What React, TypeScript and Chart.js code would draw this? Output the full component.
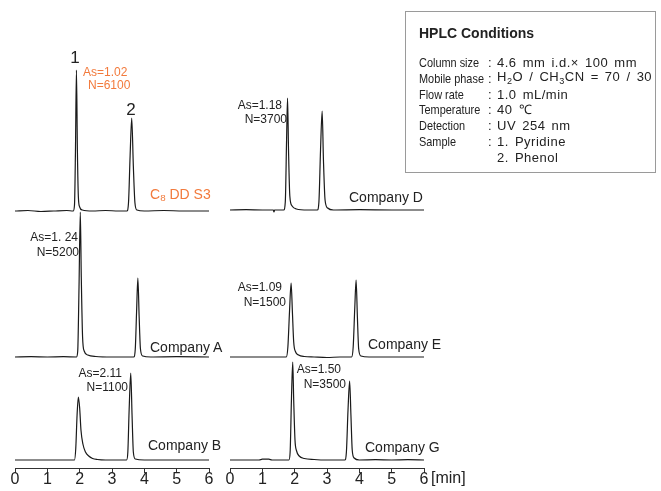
import React, { useEffect, useRef } from "react";
import { Chart, registerables } from "chart.js";

Chart.register(...registerables);

// ---------- data: chromatogram traces [time (min), signal] ----------
const traceC8: [number, number][] = [
  [0, 0], [0.4, 0.5], [0.8, -0.5], [1.2, 0], [1.6, 0.5], [1.8, 0], [1.84, 6], [1.87, 60], [1.9, 141],
  [1.93, 60], [1.96, 14], [2.0, 4], [2.08, 1], [2.4, 0], [2.8, 0.5], [3.2, 0], [3.46, 0], [3.51, 8],
  [3.56, 55], [3.61, 93], [3.66, 45], [3.71, 8], [3.77, 1], [4.0, 0], [4.6, 0.5], [5.2, 0], [6, 0],
];
const traceD: [number, number][] = [
  [0, 0], [0.5, 0.3], [1.0, 0], [1.34, 0], [1.36, -2], [1.38, 0], [1.66, 0], [1.71, 8], [1.75, 70],
  [1.78, 112], [1.81, 60], [1.85, 14], [1.92, 4], [2.05, 1], [2.4, 0], [2.7, 0], [2.75, 8], [2.8, 60],
  [2.85, 99], [2.89, 50], [2.94, 10], [3.02, 2], [3.2, 0], [4.0, 0.3], [5.0, 0], [6, 0],
];
const traceA: [number, number][] = [
  [0, 0], [0.5, 0.3], [1.0, 0], [1.5, 0.3], [1.9, 0], [1.94, 6], [1.98, 70], [2.02, 145], [2.05, 80],
  [2.09, 20], [2.14, 6], [2.25, 2], [2.5, 0.5], [3.0, 0], [3.5, 0], [3.67, 0], [3.72, 8], [3.76, 45],
  [3.8, 79], [3.84, 40], [3.88, 8], [3.95, 1], [4.2, 0], [5.0, 0.3], [6, 0],
];
const traceE: [number, number][] = [
  [0, 0], [0.5, 0], [1.0, 0], [1.5, 0], [1.74, 0], [1.79, 10], [1.84, 45], [1.89, 74], [1.93, 45],
  [1.97, 15], [2.03, 5], [2.12, 2], [2.3, 0.5], [2.6, 0], [3.0, -0.5], [3.4, 0], [3.76, 0], [3.81, 10],
  [3.86, 50], [3.9, 77], [3.94, 40], [3.98, 8], [4.05, 1], [4.3, 0], [5.0, 0], [6, 0],
];
const traceB: [number, number][] = [
  [0, 0], [1.0, 0], [1.84, 0], [1.88, 12], [1.92, 45], [1.96, 63], [2.0, 52], [2.04, 30], [2.1, 16],
  [2.18, 8], [2.28, 4], [2.4, 1.5], [2.55, 0.5], [2.8, 0], [3.45, 0], [3.49, 8], [3.53, 50], [3.58, 87],
  [3.62, 45], [3.66, 8], [3.72, 1], [4.0, 0], [5.0, 0], [6, 0],
];
const traceG: [number, number][] = [
  [0, 0], [0.9, 0], [1.0, 0.8], [1.2, 0.8], [1.3, 0], [1.82, 0], [1.86, 8], [1.9, 60], [1.94, 98],
  [1.97, 60], [2.01, 20], [2.06, 9], [2.14, 4], [2.3, 1.5], [2.6, 0.5], [3.0, 0], [3.55, 0], [3.6, 8],
  [3.65, 50], [3.7, 79], [3.74, 45], [3.78, 10], [3.84, 2], [4.0, 0], [4.5, 0.3], [5.0, 0], [5.5, 0.3], [6, 0],
];

const timeTicks = [0, 1, 2, 3, 4, 5, 6];

const hplcLabels = ["Column size", "Mobile phase", "Flow rate", "Temperature", "Detection", "Sample", ""];

// ---------- layout ----------
const FONT = "'Liberation Sans', Arial, Helvetica, sans-serif";
const PADX = 10;
const PLOT_W = 194;
const Y_ABOVE = 160;
const AXIS_Y = 468;
const AXIS_H = 26;
const ORANGE = "#F27A3C";
const INK = "#222";

type PanelProps = { points: [number, number][]; left: number; baseline: number; axis?: boolean };

function Panel({ points, left, baseline, axis }: PanelProps) {
  const ref = useRef<HTMLCanvasElement>(null);
  const yMin = axis ? -(AXIS_Y - baseline) : -10;
  const w = PLOT_W + PADX * 2;
  const h = Y_ABOVE - yMin + (axis ? AXIS_H : 0);
  useEffect(() => {
    if (!ref.current) return;
    const xScale: any = {
      type: "linear",
      min: timeTicks[0],
      max: timeTicks[timeTicks.length - 1],
      display: !!axis,
      afterBuildTicks: (s: any) => {
        s.ticks = timeTicks.map((v) => ({ value: v }));
      },
      ticks: { color: INK, font: { family: FONT, size: 16 }, padding: -3, maxRotation: 0 },
      grid: { drawOnChartArea: false, drawTicks: true, tickLength: 5, color: "#333", lineWidth: 1 },
      border: { display: true, color: "#333", width: 1 },
    };
    if (axis) {
      xScale.afterFit = (s: any) => {
        s.height = AXIS_H;
      };
    }
    const chart = new Chart(ref.current, {
      type: "line",
      data: {
        datasets: [
          {
            data: points.map(([x, y]) => ({ x, y })),
            borderColor: "#1a1a1a",
            borderWidth: 1.2,
            pointRadius: 0,
            cubicInterpolationMode: "monotone",
            fill: false,
            clip: false as any,
          },
        ],
      },
      options: {
        responsive: false,
        animation: false,
        events: [],
        layout: { padding: { left: PADX, right: PADX, top: 0, bottom: 0 } },
        plugins: { legend: { display: false }, tooltip: { enabled: false } },
        scales: {
          x: xScale,
          y: { type: "linear", min: yMin, max: Y_ABOVE, display: false },
        },
      },
    } as any);
    return () => chart.destroy();
  }, []);
  return (
    <canvas
      ref={ref}
      width={w}
      height={h}
      style={{ position: "absolute", left: left - PADX, top: baseline - Y_ABOVE, width: w, height: h }}
    />
  );
}

type LabelProps = {
  x: number;
  y: number;
  align?: "left" | "right" | "center";
  color?: string;
  size?: number;
  bold?: boolean;
  squeeze?: number;
  spacing?: [number, number];
  children: React.ReactNode;
};

function Label({ x, y, align = "left", color = INK, size = 12, bold, squeeze, spacing, children }: LabelProps) {
  const tx = align === "right" ? "-100%" : align === "center" ? "-50%" : "0";
  return (
    <div
      style={{
        position: "absolute",
        left: x,
        top: y,
        transform: `translate(${tx}, -50%)${squeeze ? ` scaleX(${squeeze})` : ""}`,
        transformOrigin: "left center",
        color,
        fontSize: size,
        fontFamily: FONT,
        fontWeight: bold ? 700 : 400,
        lineHeight: 1,
        whiteSpace: "nowrap",
        letterSpacing: spacing ? spacing[0] : undefined,
        wordSpacing: spacing ? spacing[1] : undefined,
      }}
    >
      {children}
    </div>
  );
}

const sub = (t: string) => (
  <span style={{ fontSize: "0.7em", verticalAlign: "-0.25em" }}>{t}</span>
);

export default function App() {
  const rowY = [62, 77.8, 93.6, 109.4, 125.2, 141, 156.8];
  const values: React.ReactNode[] = [
    <>4.6 mm i.d.× 100 mm</>,
    <>H{sub("2")}O / CH{sub("3")}CN = 70 / 30</>,
    <>1.0 mL/min</>,
    <>40 ℃</>,
    <>UV 254 nm</>,
    <>1. Pyridine</>,
    <>2. Phenol</>,
  ];
  return (
    <div
      style={{
        position: "absolute",
        left: 0,
        top: 0,
        width: 661,
        height: 491,
        background: "#fff",
        overflow: "hidden",
      }}
    >
      <Panel points={traceC8} left={15} baseline={211} />
      <Panel points={traceD} left={230} baseline={210} />
      <Panel points={traceA} left={15} baseline={357} />
      <Panel points={traceE} left={230} baseline={357} />
      <Panel points={traceB} left={15} baseline={460} axis />
      <Panel points={traceG} left={230} baseline={460} axis />

      {/* top-left */}
      <Label x={75} y={57} align="center" size={17}>1</Label>
      <Label x={131} y={109} align="center" size={17}>2</Label>
      <Label x={83} y={72} color={ORANGE}>As=1.02</Label>
      <Label x={88} y={85} color={ORANGE}>N=6100</Label>
      <Label x={150} y={195} color={ORANGE} size={14}>C{sub("8")} DD S3</Label>

      {/* top-right */}
      <Label x={282} y={105} align="right">As=1.18</Label>
      <Label x={287} y={119} align="right">N=3700</Label>
      <Label x={349} y={197} size={14}>Company D</Label>

      {/* middle-left */}
      <Label x={78} y={237} align="right">As=1. 24</Label>
      <Label x={79} y={252} align="right">N=5200</Label>
      <Label x={150} y={347} size={14}>Company A</Label>

      {/* middle-right */}
      <Label x={282} y={287} align="right">As=1.09</Label>
      <Label x={286} y={302} align="right">N=1500</Label>
      <Label x={368} y={344} size={14}>Company E</Label>

      {/* bottom-left */}
      <Label x={122} y={373} align="right">As=2.11</Label>
      <Label x={128} y={387} align="right">N=1100</Label>
      <Label x={148} y={445} size={14}>Company B</Label>

      {/* bottom-right */}
      <Label x={341} y={369} align="right">As=1.50</Label>
      <Label x={346} y={384} align="right">N=3500</Label>
      <Label x={365} y={447} size={14}>Company G</Label>

      <Label x={431} y={478} size={16}>[min]</Label>

      {/* HPLC conditions box */}
      <div
        style={{
          position: "absolute",
          left: 405,
          top: 11,
          width: 249,
          height: 160,
          border: "1px solid #9a9a9a",
        }}
      />
      <Label x={419} y={33} size={14} bold>HPLC Conditions</Label>
      {hplcLabels.map((l, i) => (
        <React.Fragment key={i}>
          {l && <Label x={419} y={rowY[i]} size={13} squeeze={0.84}>{l}</Label>}
          {l && <Label x={488} y={rowY[i]} size={13}>:</Label>}
          <Label x={497} y={rowY[i]} size={13} spacing={[0.5, 2]}>{values[i]}</Label>
        </React.Fragment>
      ))}
    </div>
  );
}
